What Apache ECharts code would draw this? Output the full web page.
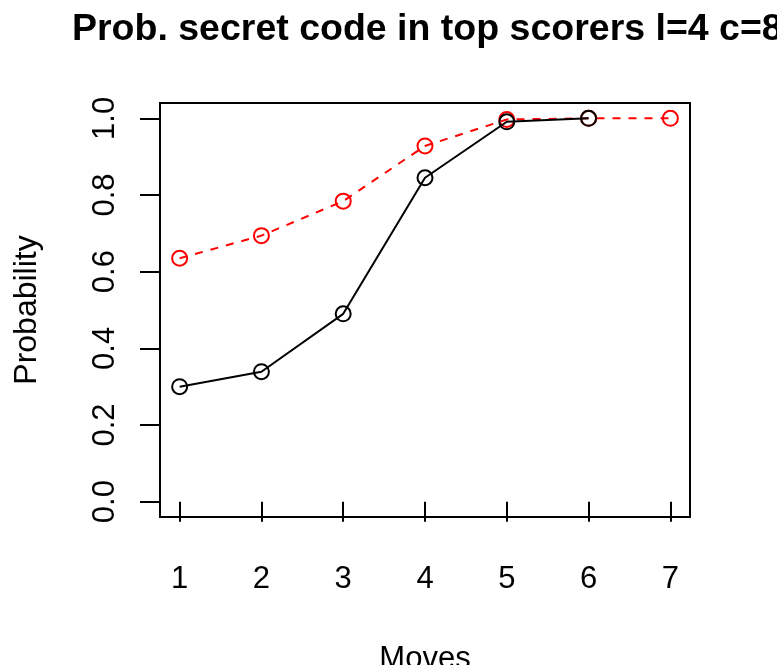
<!DOCTYPE html>
<html>
<head>
<meta charset="utf-8">
<script src="https://cdn.jsdelivr.net/npm/echarts@6/dist/echarts.min.js"></script>
<style>html,body{margin:0;padding:0;background:#fff}#c{width:777px;height:665px}</style>
</head>
<body>
<div id="c"></div>
<script>
var moves = [1, 2, 3, 4, 5, 6, 7];
var blackProb = [0.300, 0.339, 0.490, 0.845, 0.991, 1.000];
var redProb = [0.635, 0.694, 0.784, 0.928, 0.997, 1.000, 1.000];
var xTicks = [1, 2, 3, 4, 5, 6, 7];
var yTicks = [0, 0.2, 0.4, 0.6, 0.8, 1.0];

function pairs(vals) {
  return vals.map(function (v, i) { return [moves[i], v]; });
}
var FONT = 'Liberation Sans, Arial, Helvetica, sans-serif';
var chart = echarts.init(document.getElementById('c'), null, { renderer: 'canvas' });
chart.setOption({
  backgroundColor: '#fff',
  animation: false,
  title: {
    text: 'Prob. secret code in top scorers l=4 c=8',
    left: 72, top: 11, padding: 0,
    textStyle: { fontFamily: FONT, fontWeight: 'bold', fontSize: 37.5, color: '#000' }
  },
  grid: { left: 160, right: 87, top: 103, bottom: 148, containLabel: false, outerBoundsMode: 'none',
    show: true, borderColor: '#000', borderWidth: 2, backgroundColor: 'transparent' },
  xAxis: {
    type: 'value', min: 0.76, max: 7.24,
    name: 'Moves', nameLocation: 'middle', nameGap: 127,
    nameTextStyle: { fontFamily: FONT, fontSize: 31, color: '#000' },
    axisLine: { show: false },
    splitLine: { show: false },
    axisTick: { show: true, inside: false, length: 20, customValues: xTicks, lineStyle: { color: '#000', width: 2 } },
    axisLabel: { customValues: xTicks, margin: 47, fontFamily: FONT, fontSize: 31, color: '#000' }
  },
  yAxis: {
    type: 'value', min: -0.04, max: 1.04,
    name: 'Probability', nameLocation: 'middle', nameGap: 117,
    nameTextStyle: { fontFamily: FONT, fontSize: 32, color: '#000' },
    axisLine: { show: false },
    splitLine: { show: false },
    axisTick: { show: true, inside: false, length: 20, customValues: yTicks, lineStyle: { color: '#000', width: 2 } },
    axisLabel: { customValues: yTicks, rotate: 90, margin: 39, fontFamily: FONT, fontSize: 31, color: '#000',
      formatter: function (v) { return v.toFixed(1); } }
  },
  series: [
    {
      type: 'line', data: pairs(redProb), symbol: 'circle', symbolSize: 15,
      lineStyle: { color: '#ff0000', width: 2, type: [8, 8] },
      itemStyle: { color: 'transparent', borderColor: '#ff0000', borderWidth: 2 },
      z: 2
    },
    {
      type: 'line', data: pairs(blackProb), symbol: 'circle', symbolSize: 15,
      lineStyle: { color: '#000', width: 2 },
      itemStyle: { color: 'transparent', borderColor: '#000', borderWidth: 2 },
      z: 3
    }
  ]
});
</script>
</body>
</html>
